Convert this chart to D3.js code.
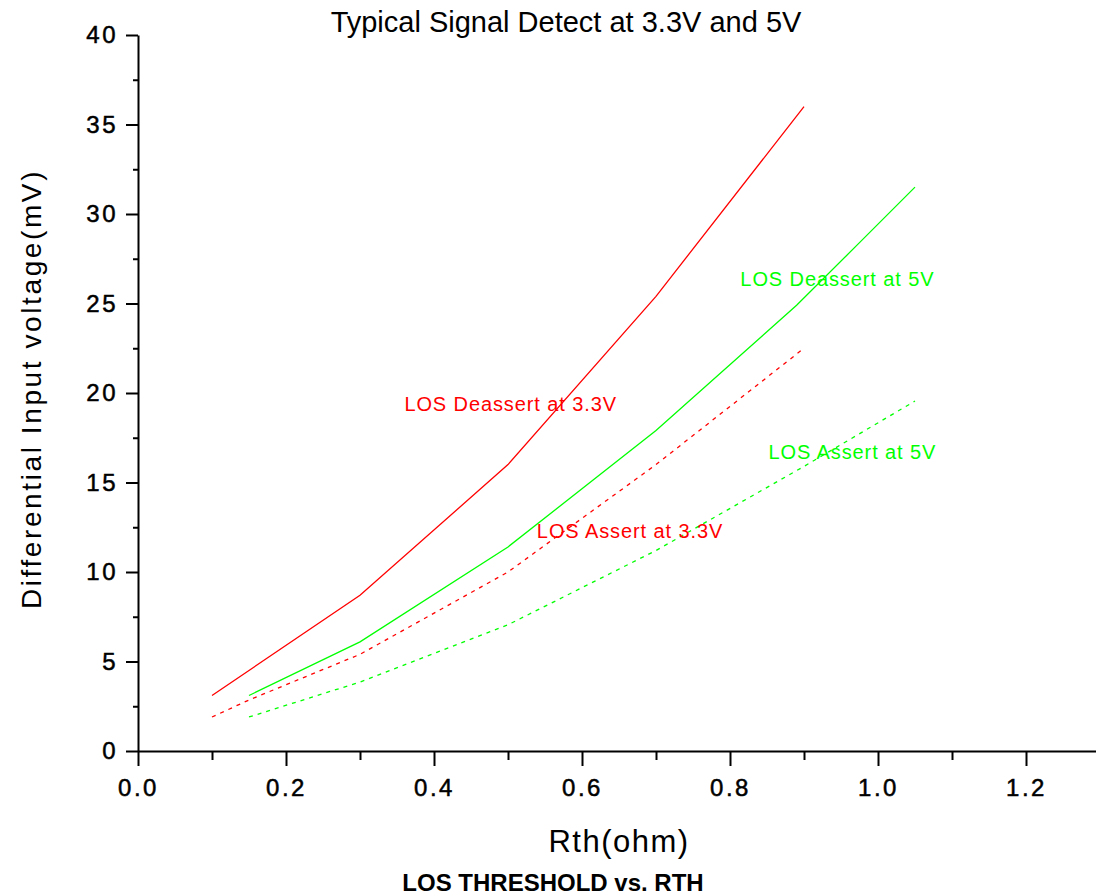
<!DOCTYPE html>
<html>
<head>
<meta charset="utf-8">
<script src="https://cdn.jsdelivr.net/npm/d3@7"></script>
<style>
  html, body { margin: 0; padding: 0; background: #fff; }
  svg { display: block; font-family: Arial, "Liberation Sans", sans-serif; }
</style>
</head>
<body>
<svg id="chart" width="1096" height="896"></svg>
<script>
// ---- data ----
const titleText = "Typical Signal Detect at 3.3V and 5V";
const xLabelText = "Rth(ohm)";
const yLabelText = "Differential Input voltage(mV)";
const footerText = "LOS THRESHOLD vs. RTH";

const xMajorTicks = [0.0, 0.2, 0.4, 0.6, 0.8, 1.0, 1.2];
const xMinorTicks = [0.1, 0.3, 0.5, 0.7, 0.9, 1.1];
const yMajorTicks = [0, 5, 10, 15, 20, 25, 30, 35, 40];
const yMinorTicks = [2.5, 7.5, 12.5, 17.5, 22.5, 27.5, 32.5, 37.5];

const deassert33X = [0.1, 0.3, 0.5, 0.7, 0.9];
const deassert33Y = [3.1, 8.7, 16.0, 25.4, 36.0];
const assert33X = [0.1, 0.15, 0.3, 0.5, 0.7, 0.9];
const assert33Y = [1.9, 2.85, 5.4, 10.0, 16.0, 22.5];
const deassert5X = [0.15, 0.3, 0.5, 0.7, 0.89, 0.975, 1.05];
const deassert5Y = [3.1, 6.1, 11.4, 17.9, 24.9, 28.4, 31.5];
const assert5X = [0.15, 0.3, 0.5, 0.7, 0.9, 1.05];
const assert5Y = [1.9, 3.85, 7.05, 11.2, 15.9, 19.55];

const seriesNames = ["LOS Deassert at 3.3V", "LOS Assert at 3.3V", "LOS Deassert at 5V", "LOS Assert at 5V"];
const seriesColors = ["#ff0000", "#ff0000", "#00ff00", "#00ff00"];
const seriesDashed = [false, true, false, true];
// label anchor in data coordinates (left end of text, baseline)
const labelX = [0.36, 0.539, 0.814, 0.852];
const labelY = [19.0, 11.9, 25.95, 16.3];

// ---- layout ----
const svg = d3.select("#chart");
const x = d3.scaleLinear().domain([0, 1.3]).range([138, 1100]);
const y = d3.scaleLinear().domain([0, 40]).range([751, 35]);

const seriesData = [
  d3.zip(deassert33X, deassert33Y),
  d3.zip(assert33X, assert33Y),
  d3.zip(deassert5X, deassert5Y),
  d3.zip(assert5X, assert5Y)
];

// axes
const xAxisG = svg.append("g").attr("transform", `translate(0,${y(0)})`)
  .call(d3.axisBottom(x).tickValues(xMajorTicks).tickFormat(d3.format(".1f")).tickSize(15).tickSizeOuter(0).tickPadding(13));
const xMinorG = svg.append("g").attr("transform", `translate(0,${y(0)})`)
  .call(d3.axisBottom(x).tickValues(xMinorTicks).tickFormat("").tickSize(9).tickSizeOuter(0));
const yAxisG = svg.append("g").attr("transform", `translate(${x(0)},0)`)
  .call(d3.axisLeft(y).tickValues(yMajorTicks).tickSize(12).tickSizeOuter(0).tickPadding(8));
const yMinorG = svg.append("g").attr("transform", `translate(${x(0)},0)`)
  .call(d3.axisLeft(y).tickValues(yMinorTicks).tickFormat("").tickSize(5).tickSizeOuter(0));

[xAxisG, xMinorG, yAxisG, yMinorG].forEach(g => {
  g.attr("font-size", 24).attr("font-family", "Arial, 'Liberation Sans', sans-serif");
  g.selectAll("path.domain").attr("stroke", "#000").attr("stroke-width", 2);
  g.selectAll(".tick line").attr("stroke", "#000").attr("stroke-width", 2);
  g.selectAll(".tick text").attr("fill", "#000").attr("font-size", 24).attr("letter-spacing", 2.5)
    .attr("stroke", "#000").attr("stroke-width", 0.5);
});
xMinorG.select("path.domain").remove();
yMinorG.select("path.domain").remove();

// lines
const line = d3.line().x(d => x(d[0])).y(d => y(d[1]));
svg.append("g").selectAll("path.series").data(seriesData).join("path")
  .attr("class", "series")
  .attr("d", line)
  .attr("fill", "none")
  .attr("stroke", (d, i) => seriesColors[i])
  .attr("stroke-width", 1.3)
  .attr("stroke-dasharray", (d, i) => seriesDashed[i] ? "4,5" : null);

// series labels
svg.append("g").selectAll("text").data(seriesNames).join("text")
  .attr("x", (d, i) => x(labelX[i]))
  .attr("y", (d, i) => y(labelY[i]))
  .attr("fill", (d, i) => seriesColors[i])
  .attr("font-size", 20)
  .attr("letter-spacing", 0.9)
  .text(d => d);

// titles
svg.append("text").attr("x", 566).attr("y", 32).attr("text-anchor", "middle")
  .attr("font-size", 29).attr("fill", "#000").text(titleText);
svg.append("text").attr("x", 619).attr("y", 852).attr("text-anchor", "middle")
  .attr("font-size", 31).attr("letter-spacing", 1.5).attr("fill", "#000").text(xLabelText);
svg.append("text").attr("transform", "translate(41,389) rotate(-90)").attr("text-anchor", "middle")
  .attr("font-size", 28).attr("letter-spacing", 2.6).attr("fill", "#000").text(yLabelText);
svg.append("text").attr("x", 553).attr("y", 891).attr("text-anchor", "middle")
  .attr("font-size", 24).attr("font-weight", "bold").attr("fill", "#000").text(footerText);
</script>
</body>
</html>
